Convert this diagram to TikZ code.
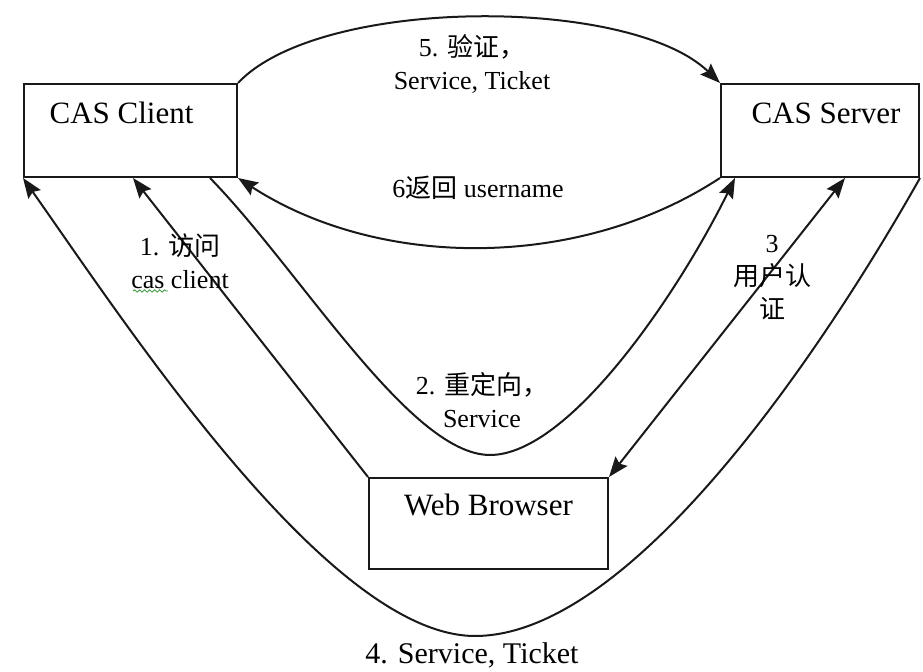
\documentclass[tikz,border=0pt]{standalone}
\usepackage{fontspec}
\setmainfont{Liberation Serif}
\newfontfamily\cjk{Noto Sans CJK SC}
\usetikzlibrary{arrows.meta, calc, decorations.pathmorphing}
\definecolor{linegray}{RGB}{25,25,25}
\definecolor{spellgreen}{RGB}{60,150,60}

\begin{document}
\begin{tikzpicture}[
    x=0.5pt, y=-0.5pt,
    box/.style={draw=linegray, line width=1pt, anchor=north west, inner sep=0pt},
    boxtext/.style={font=\fontsize{15.5}{18}\selectfont},
    lbl/.style={align=center, font=\fontsize{13}{16.5}\selectfont},
    tip/.tip={Stealth[length=10pt, width=7.5pt, inset=1.5pt]},
    arrow/.style={-tip, line width=1pt, draw=linegray},
    twoway/.style={tip-tip, line width=1pt, draw=linegray}
]
\useasboundingbox (0,0) rectangle (923,672);

% the three parties
\node[box, minimum width=106.5pt, minimum height=46.5pt] (client) at (23,83) {};
\node[box, minimum width=99pt, minimum height=46.5pt] (server) at (720,83) {};
\node[box, minimum width=119.5pt, minimum height=45.5pt] (browser) at (368,477) {};
\node[boxtext] (clienttxt) at ($(client.north)+(-9,30)$) {CAS Client};
\node[boxtext] (servertxt) at ($(server.north)+(6,30)$) {CAS Server};
\node[boxtext] (browsertxt) at ($(browser.north)+(0,28)$) {Web Browser};

% turning points of the two long curves
\coordinate (redirlow) at (490,455);
\coordinate (ticketlow) at (475,636);

% 1. browser -> client
\draw[arrow] (browser.north west) -- ($(client.south west)+(110,0)$);
% 2. client redirects to server
\draw[arrow] ($(client.south west)+(187,0)$) .. controls (300,270) and (410,455) .. (redirlow)
    .. controls (570,455) and (680,290) .. ($(server.south west)+(15,0)$);
% 3. login between browser and server
\draw[twoway] (browser.north east) -- ($(server.south west)+(125,0)$);
% 4. ticket back to client
\draw[arrow] (server.south east) .. controls (840,320) and (640,636) .. (ticketlow)
    .. controls (330,636) and (130,330) .. (client.south west);
% 5. validate
\draw[arrow] (client.north east) .. controls (320,-4) and (630,-4) .. (server.north west);
% 6. answer
\draw[arrow] (server.south west) .. controls (580,270) and (380,270) .. (client.south east);

% step labels
\node[lbl] (step1) at (180,261) {1. {\cjk 访问}\\cas client};
\node[lbl] (step2) at (482,400) {2. {\cjk 重定向，}\\Service};
\node[lbl] (step3) at (772,278) {3\\{\cjk 用户认}\\{\cjk 证}};
\node[lbl, font=\fontsize{15}{18}\selectfont] (step4) at (472,655) {4. Service, Ticket};
\node[lbl] (step5) at (472,64) {5. {\cjk 验证，}\\Service, Ticket};
\node[lbl] (step6) at (478,188) {6{\cjk 返回} username};

% spell-check squiggle under "cas"
\draw[spellgreen, decorate, decoration={snake, amplitude=0.6pt, segment length=2.5pt}] (133,291) -- (168,291);
\end{tikzpicture}
\end{document}
